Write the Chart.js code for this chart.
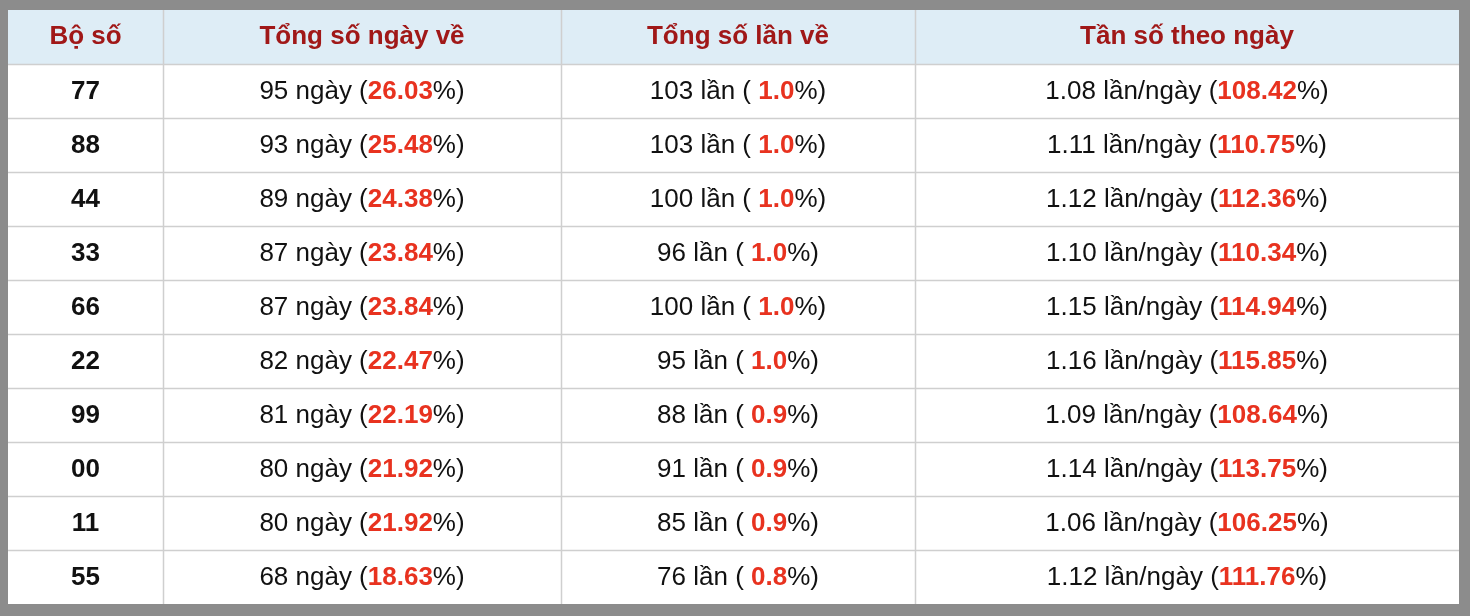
<!DOCTYPE html>
<html><head><meta charset="utf-8">
<script src="https://cdn.jsdelivr.net/npm/chart.js@4"></script>
<style>html,body{margin:0;padding:0;background:#8c8c8c;}canvas{display:block}</style>
</head><body>
<div style="width:1470px;height:616px"><canvas id="c"></canvas></div>
<script>
const headers = ["Bộ số","Tổng số ngày về","Tổng số lần về","Tần số theo ngày"];
const boSo = ["77","88","44","33","66","22","99","00","11","55"];
const soNgay = [95,93,89,87,87,82,81,80,80,68];
const pctNgay = ["26.03","25.48","24.38","23.84","23.84","22.47","22.19","21.92","21.92","18.63"];
const soLan = [103,103,100,96,100,95,88,91,85,76];
const pctLan = ["1.0","1.0","1.0","1.0","1.0","1.0","0.9","0.9","0.9","0.8"];
const tanSo = ["1.08","1.11","1.12","1.10","1.15","1.16","1.09","1.14","1.06","1.12"];
const pctTanSo = ["108.42","110.75","112.36","110.34","114.94","115.85","108.64","113.75","106.25","111.76"];
const colEdges = [0,155,553,907,1451];

const FONT = '"Liberation Sans", Arial, sans-serif';
const SIZE = '26px ';
const RED = '#e8321f', HEAD = '#a01818', BLACK = '#111';

function cellParts(r,c){
  if(c===0) return [[boSo[r],BLACK,true]];
  if(c===1) return [[soNgay[r]+" ngày (",BLACK,false],[pctNgay[r],RED,true],["%)",BLACK,false]];
  if(c===2) return [[soLan[r]+" lần ( ",BLACK,false],[pctLan[r],RED,true],["%)",BLACK,false]];
  return [[tanSo[r]+" lần/ngày (",BLACK,false],[pctTanSo[r],RED,true],["%)",BLACK,false]];
}

const tablePlugin = {
  id:'table',
  afterDraw(chart){
    const ctx = chart.ctx, xs = chart.scales.x, ys = chart.scales.y;
    const L = xs.getPixelForValue(0), R = xs.getPixelForValue(1451);
    const nRows = boSo.length + 1;
    ctx.save();
    for(let i=0;i<nRows;i++){
      const t = ys.getPixelForValue(i), b = ys.getPixelForValue(i+1);
      ctx.fillStyle = i===0 ? '#deedf6' : '#ffffff';
      ctx.fillRect(L,t,R-L,b-t);
    }
    ctx.strokeStyle = '#cfcfcf'; ctx.lineWidth = 1.5;
    for(let i=1;i<nRows;i++){
      const y = Math.round(ys.getPixelForValue(i))+0.5;
      ctx.beginPath(); ctx.moveTo(L,y); ctx.lineTo(R,y); ctx.stroke();
    }
    const T = ys.getPixelForValue(0), B = ys.getPixelForValue(nRows);
    for(let c=1;c<colEdges.length-1;c++){
      const x = Math.round(xs.getPixelForValue(colEdges[c]))+0.5;
      ctx.beginPath(); ctx.moveTo(x,T); ctx.lineTo(x,B); ctx.stroke();
    }
    ctx.textBaseline = 'middle';
    for(let c=0;c<headers.length;c++){
      const cx = (xs.getPixelForValue(colEdges[c])+xs.getPixelForValue(colEdges[c+1]))/2;
      const cy = (ys.getPixelForValue(0)+ys.getPixelForValue(1))/2;
      ctx.font = 'bold '+SIZE+FONT; ctx.fillStyle = HEAD; ctx.textAlign='center';
      ctx.fillText(headers[c],cx,cy);
    }
    ctx.textAlign='left';
    for(let r=0;r<boSo.length;r++){
      const cy = (ys.getPixelForValue(r+1)+ys.getPixelForValue(r+2))/2 + 1;
      for(let c=0;c<4;c++){
        const parts = cellParts(r,c);
        let w=0;
        parts.forEach(p=>{ctx.font=(p[2]?'bold ':'')+SIZE+FONT; w+=ctx.measureText(p[0]).width;});
        const cx = (xs.getPixelForValue(colEdges[c])+xs.getPixelForValue(colEdges[c+1]))/2;
        let x = cx - w/2;
        parts.forEach(p=>{ctx.font=(p[2]?'bold ':'')+SIZE+FONT; ctx.fillStyle=p[1]; ctx.fillText(p[0],x,cy); x+=ctx.measureText(p[0]).width;});
      }
    }
    ctx.restore();
  }
};

new Chart(document.getElementById('c'),{
  type:'scatter',
  data:{datasets:[{data:[],pointRadius:0}]},
  options:{
    responsive:true, maintainAspectRatio:false, animation:false,
    layout:{padding:{left:8,right:11,top:10,bottom:12}},
    plugins:{legend:{display:false},tooltip:{enabled:false}},
    scales:{
      x:{type:'linear',min:0,max:1451,display:false},
      y:{type:'linear',min:0,max:boSo.length+1,reverse:true,display:false}
    }
  },
  plugins:[tablePlugin]
});
</script>
</body></html>
